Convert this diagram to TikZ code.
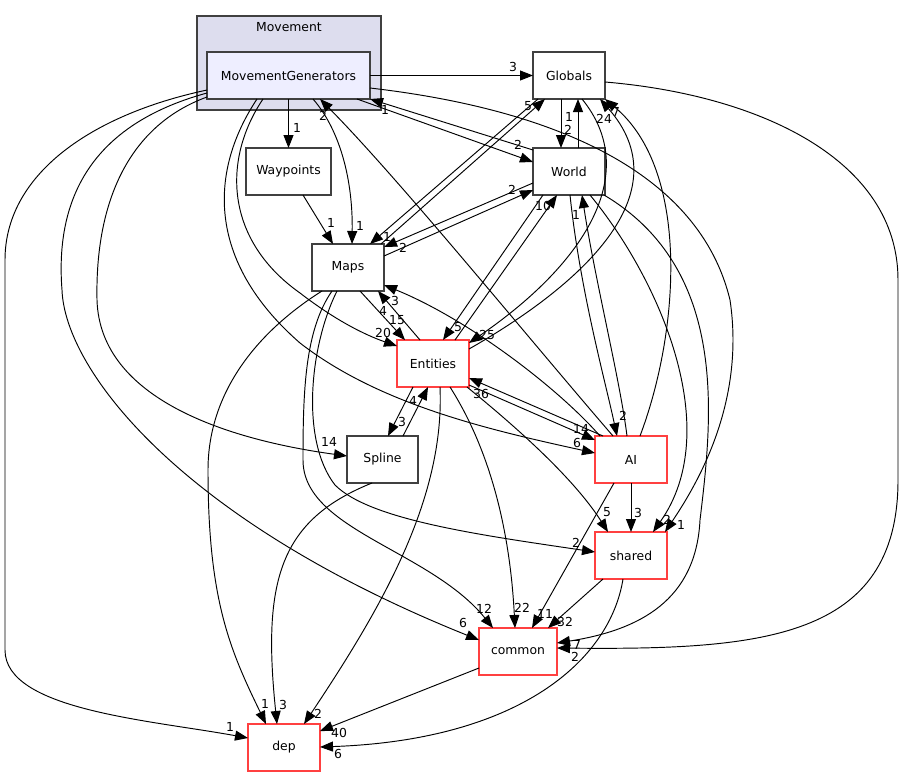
\documentclass[tikz,border=0pt]{standalone}
\usepackage{fontspec}
\setmainfont{DejaVu Sans}
\usetikzlibrary{arrows.meta}
\definecolor{nodegray}{HTML}{404040}
\definecolor{nodered}{HTML}{FF4040}
\definecolor{clusterfill}{HTML}{DDDDEE}
\definecolor{mgfill}{HTML}{EEEEFF}
\newcommand\fs{\fontsize{12.4}{14}\selectfont}
\begin{document}
\begin{tikzpicture}[x=1pt,y=-1pt,
  box/.style={draw=nodegray, line width=1.1pt, fill=white, minimum height=47pt, minimum width=72pt, inner sep=0pt, outer sep=0pt, font=\fs},
  redbox/.style={box, draw=nodered},
  edge/.style={draw=black, line width=0.95pt, -{Triangle[length=13pt,width=10pt]}},
  lbl/.style={font=\fs, inner sep=0pt}]
\useasboundingbox (0,0) rectangle (904,777);
\fill[white] (0,0) rectangle (904,777);
% cluster
\node[draw=nodegray, fill=clusterfill, line width=1.1pt, minimum width=184pt, minimum height=94pt, inner sep=0pt, outer sep=0pt] (cluster) at (289,63) {};
\node[lbl] (clusterlbl) at (289,27) {Movement};
% nodes
\node[box, fill=mgfill, minimum width=163pt] (MG) at (288.5,75.5) {MovementGenerators};
\node[box] (Globals) at (569,75.5) {Globals};
\node[box] (World) at (569,171.5) {World};
\node[box, minimum width=85pt] (Waypoints) at (288.5,171.5) {Waypoints};
\node[box] (Maps) at (348,267.5) {Maps};
\node[redbox] (Entities) at (433,363.5) {Entities};
\node[box, minimum width=71pt] (Spline) at (382.5,459.5) {Spline};
\node[redbox] (AI) at (631,459.5) {AI};
\node[redbox] (shared) at (631,555.5) {shared};
\node[redbox, minimum width=78pt] (common) at (518,651.5) {common};
\node[redbox] (dep) at (284,747.5) {dep};
% edges
\draw[edge] (MG.east) -- (Globals.west);
\draw[edge] (MG.south) -- (Waypoints.north);
\draw[edge] ([shift={(106,47)}]MG.north west) .. controls (340,130) and (353,180) .. ([shift={(40,0)}]Maps.north west);
\draw[edge] ([shift={(18,0)}]AI.north west) .. controls (530,340) and (400,180) .. ([shift={(113,47)}]MG.north west);
\draw[edge] ([shift={(150,47)}]MG.north west) -- ([shift={(0,14)}]World.north west);
\draw[edge] ([shift={(0,2)}]World.north west) -- (MG.south east);
\draw[edge] ([shift={(163,36)}]MG.north west) .. controls (560,110) and (700,175) .. (730,300) .. controls (745,400) and (700,480) .. ([shift={(70,0)}]shared.north west);
\draw[edge] ([shift={(56,47)}]MG.north west) .. controls (222,160) and (225,240) .. (300,293) .. controls (335,320) and (365,335) .. ([shift={(0,6)}]Entities.north west);
\draw[edge] ([shift={(50,47)}]MG.north west) .. controls (210,170) and (205,260) .. (300,343) .. controls (380,405) and (490,430) .. ([shift={(0,17)}]AI.north west);
\draw[edge] ([shift={(0,45)}]MG.north west) .. controls (130,125) and (95,200) .. (97,300) .. controls (100,400) and (230,440) .. ([shift={(0,20)}]Spline.north west);
\draw[edge] ([shift={(0,38)}]MG.north west) .. controls (90,115) and (5,175) .. (5,260) -- (5,650) .. controls (5,710) and (150,720) .. ([shift={(0,14)}]dep.north west);
\draw[edge] ([shift={(0,41)}]MG.north west) .. controls (90,125) and (55,200) .. (62,290) .. controls (65,370) and (180,520) .. ([shift={(0,12)}]common.north west);
\draw[edge] ([shift={(28,47)}]Globals.north west) -- ([shift={(28,0)}]World.north west);
\draw[edge] ([shift={(45,0)}]World.north west) -- ([shift={(45,47)}]Globals.north west);
\draw[edge] ([shift={(69,0)}]Maps.north west) -- ([shift={(12,47)}]Globals.north west);
\draw[edge] ([shift={(5,47)}]Globals.north west) -- ([shift={(58,0)}]Maps.north west);
\draw[edge] ([shift={(72,12)}]Maps.north west) -- ([shift={(0,42)}]World.north west);
\draw[edge] ([shift={(0,35)}]World.north west) -- ([shift={(72,3)}]Maps.north west);
\draw[edge] ([shift={(48,47)}]Maps.north west) -- ([shift={(8,0)}]Entities.north west);
\draw[edge] ([shift={(23,0)}]Entities.north west) -- ([shift={(66,47)}]Maps.north west);
\draw[edge] ([shift={(5,0)}]AI.north west) .. controls (560,390) and (470,320) .. ([shift={(72,41)}]Maps.north west);
\draw[edge] ([shift={(10,47)}]World.north west) -- ([shift={(46,0)}]Entities.north west);
\draw[edge] ([shift={(58,0)}]Entities.north west) -- ([shift={(24,47)}]World.north west);
\draw[edge] ([shift={(49,47)}]Globals.north west) .. controls (640,170) and (590,260) .. ([shift={(72,3)}]Entities.north west);
\draw[edge] ([shift={(72,9)}]Entities.north west) .. controls (590,280) and (680,190) .. ([shift={(67,47)}]Globals.north west);
\draw[edge] ([shift={(45,0)}]AI.north west) .. controls (680,330) and (690,170) .. (Globals.south east);
\draw[edge] ([shift={(37,47)}]World.north west) .. controls (580,290) and (605,380) .. ([shift={(22,0)}]AI.north west);
\draw[edge] ([shift={(32,0)}]AI.north west) .. controls (620,380) and (595,280) .. ([shift={(49,47)}]World.north west);
\draw[edge] (AI.south) -- (shared.north);
\draw[edge] ([shift={(19,47)}]AI.north west) -- ([shift={(53,0)}]common.north west);
\draw[edge] ([shift={(70,47)}]Entities.north west) .. controls (520,430) and (575,480) .. ([shift={(13,0)}]shared.north west);
\draw[edge] ([shift={(72,45)}]Entities.north west) -- ([shift={(0,4)}]AI.north west);
\draw[edge] ([shift={(8,0)}]AI.north west) -- ([shift={(72,38)}]Entities.north west);
\draw[edge] ([shift={(25,47)}]Maps.north west) .. controls (310,345) and (300,440) .. (335,485) .. controls (370,520) and (480,535) .. ([shift={(0,20)}]shared.north west);
\draw[edge] ([shift={(20,47)}]Maps.north west) .. controls (305,330) and (303,390) .. (303,460) .. controls (303,530) and (430,550) .. ([shift={(14,0)}]common.north west);
\draw[edge] ([shift={(10,47)}]Maps.north west) .. controls (260,330) and (208,390) .. (208,470) .. controls (208,600) and (230,650) .. ([shift={(18,0)}]dep.north west);
\draw[edge] ([shift={(53,47)}]Entities.north west) .. controls (490,450) and (510,530) .. ([shift={(36,0)}]common.north west);
\draw[edge] ([shift={(43,47)}]Entities.north west) .. controls (445,500) and (380,610) .. ([shift={(56,0)}]dep.north west);
\draw[edge] ([shift={(16,47)}]Entities.north west) -- ([shift={(41,0)}]Spline.north west);
\draw[edge] ([shift={(56,0)}]Spline.north west) -- ([shift={(31,47)}]Entities.north west);
\draw[edge] ([shift={(25,47)}]Spline.north west) .. controls (280,520) and (262,580) .. ([shift={(29,0)}]dep.north west);
\draw[edge] ([shift={(8,47)}]shared.north west) -- ([shift={(69,0)}]common.north west);
\draw[edge] ([shift={(28,47)}]shared.north west) .. controls (610,660) and (520,740) .. ([shift={(72,23)}]dep.north west);
\draw[edge] ([shift={(0,40)}]common.north west) -- ([shift={(72,7)}]dep.north west);
\draw[edge] ([shift={(57,47)}]World.north west) .. controls (660,280) and (725,430) .. ([shift={(58,0)}]shared.north west);
\draw[edge] ([shift={(71,47)}]World.north west) .. controls (730,270) and (712,420) .. (700,520) .. controls (696,600) and (640,630) .. ([shift={(78,15)}]common.north west);
\draw[edge] ([shift={(72,30)}]Globals.north west) .. controls (760,95) and (898,160) .. (898,280) -- (898,480) .. controls (898,640) and (760,650) .. ([shift={(78,20)}]common.north west);
\draw[edge] ([shift={(57,47)}]Waypoints.north west) -- ([shift={(21,0)}]Maps.north west);
% labels
\node[lbl] (l1) at (513,67) {3};
\node[lbl] (l2) at (297,128) {1};
\node[lbl] (l3) at (360,226) {1};
\node[lbl] (l4) at (323,116) {2};
\node[lbl] (l5) at (518,145) {2};
\node[lbl] (l6) at (385,110) {1};
\node[lbl] (l7) at (681,525) {1};
\node[lbl] (l8) at (383,333) {20};
\node[lbl] (l9) at (577,443) {6};
\node[lbl] (l10) at (329,442) {14};
\node[lbl] (l11) at (230,727) {1};
\node[lbl] (l12) at (463,623) {6};
\node[lbl] (l13) at (568,130) {2};
\node[lbl] (l14) at (569,117) {1};
\node[lbl] (l15) at (528,106) {5};
\node[lbl] (l16) at (387,237) {1};
\node[lbl] (l17) at (512,190) {2};
\node[lbl] (l18) at (403,248) {2};
\node[lbl] (l19) at (397,320) {15};
\node[lbl] (l20) at (383,311) {4};
\node[lbl] (l21) at (395,301) {3};
\node[lbl] (l22) at (458,327) {5};
\node[lbl] (l23) at (543,206) {10};
\node[lbl] (l24) at (487,335) {25};
\node[lbl] (l25) at (604,119) {24};
\node[lbl] (l26) at (616,112) {7};
\node[lbl] (l27) at (623,416) {2};
\node[lbl] (l28) at (576,215) {1};
\node[lbl] (l29) at (638,513) {3};
\node[lbl] (l30) at (545,614) {11};
\node[lbl] (l31) at (607,512) {5};
\node[lbl] (l32) at (581,429) {14};
\node[lbl] (l33) at (481,394) {36};
\node[lbl] (l34) at (576,543) {2};
\node[lbl] (l35) at (484,609) {12};
\node[lbl] (l36) at (265,704) {1};
\node[lbl] (l37) at (522,608) {22};
\node[lbl] (l38) at (318,714) {2};
\node[lbl] (l39) at (402,422) {3};
\node[lbl] (l40) at (413,401) {4};
\node[lbl] (l41) at (283,705) {3};
\node[lbl] (l42) at (565,622) {32};
\node[lbl] (l43) at (338,754) {6};
\node[lbl] (l44) at (339,733) {40};
\node[lbl] (l45) at (667,520) {2};
\node[lbl] (l46) at (577,645) {7};
\node[lbl] (l47) at (575,657) {2};
\node[lbl] (l48) at (331,223) {1};
\end{tikzpicture}
\end{document}
